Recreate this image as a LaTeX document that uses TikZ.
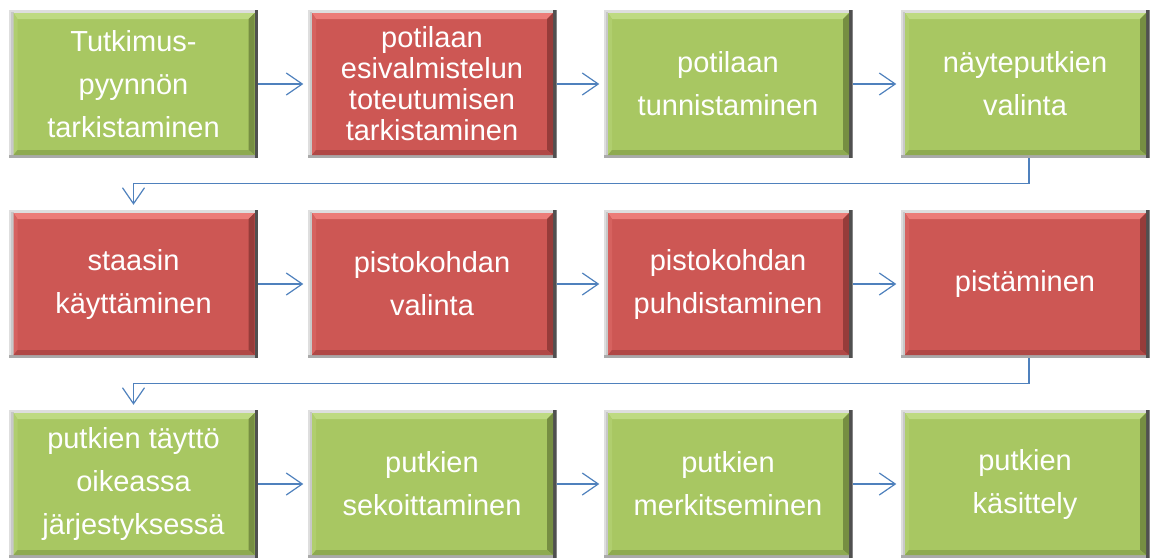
\documentclass[tikz,border=0pt]{standalone}
\usepackage{fontspec}
\setmainfont{Liberation Sans}
\usetikzlibrary{arrows.meta,calc}
\definecolor{gface}{RGB}{168,199,98}
\definecolor{gtop}{RGB}{190,218,130}
\definecolor{gleft}{RGB}{176,206,110}
\definecolor{gright}{RGB}{118,142,66}
\definecolor{gbot}{RGB}{142,170,80}
\definecolor{rface}{RGB}{205,87,84}
\definecolor{rtop}{RGB}{236,124,120}
\definecolor{rleft}{RGB}{214,98,95}
\definecolor{rright}{RGB}{150,60,58}
\definecolor{rbot}{RGB}{176,72,70}
\definecolor{frlight}{RGB}{222,222,222}
\definecolor{frleft}{RGB}{200,200,200}
\definecolor{frdark}{RGB}{80,80,80}
\definecolor{frbot}{RGB}{170,170,170}
\definecolor{arr}{RGB}{79,129,189}
\tikzset{
  bevelbox/.style n args={5}{
    rectangle, minimum width=249pt, minimum height=148pt, inner sep=0pt,
    text=white, align=center, font=\fontsize{29}{43}\selectfont,
    path picture={
      \coordinate (pnw) at (path picture bounding box.north west);
      \coordinate (pse) at (path picture bounding box.south east);
      \fill[frlight] (pnw) rectangle (pse);
      \fill[frleft] ($(pnw)+(2pt,-2pt)$) rectangle ($(pnw |- pse)+(4.5pt,0)$);
      \fill[frdark] ($(pse)+(-3.5pt,0)$) rectangle (pse |- pnw);
      \fill[frbot] (pnw |- pse) rectangle ($(pse)+(-3.5pt,3pt)$);
      \coordinate (qA) at ($(pnw)+(4.5pt,-3pt)$);
      \coordinate (qC) at ($(pse)+(-3.5pt,3pt)$);
      \coordinate (qB) at (qC |- qA);
      \coordinate (qD) at (qA |- qC);
      \fill[#1] (qA) rectangle (qC);
      \fill[#2] (qA) -- (qB) -- ($(qB)+(-6pt,-6pt)$) -- ($(qA)+(4pt,-6pt)$) -- cycle;
      \fill[#3] (qA) -- ($(qA)+(4pt,-6pt)$) -- ($(qD)+(4pt,5pt)$) -- (qD) -- cycle;
      \fill[#4] (qB) -- (qC) -- ($(qC)+(-6pt,5pt)$) -- ($(qB)+(-6pt,-6pt)$) -- cycle;
      \fill[#5] (qD) -- ($(qD)+(4pt,5pt)$) -- ($(qC)+(-6pt,5pt)$) -- (qC) -- cycle;
    }
  },
  gbox/.style={bevelbox={gface}{gtop}{gleft}{gright}{gbot}},
  rbox/.style={bevelbox={rface}{rtop}{rleft}{rright}{rbot}},
  conn/.style={draw=arr, line width=1.2pt, -{Straight Barb[length=16pt,width=22pt,line width=1.2pt]}, shorten >=4pt},
}
\begin{document}
\begin{tikzpicture}[x=1pt,y=1pt]
\useasboundingbox (0,0) rectangle (1151,-557);
% row 1
\node[gbox] (b1) at (133.5,-84) {Tutkimus-\\pyynnön\\tarkistaminen};
\node[rbox, font=\fontsize{29}{31}\selectfont] (b2) at (432,-84) {potilaan\\esivalmistelun\\toteutumisen\\tarkistaminen};
\node[gbox] (b3) at (728,-84) {potilaan\\tunnistaminen};
\node[gbox] (b4) at (1025,-84) {näyteputkien\\valinta};
% row 2
\node[rbox] (b5) at (133.5,-284) {staasin\\käyttäminen};
\node[rbox] (b6) at (432,-284) {pistokohdan\\valinta};
\node[rbox] (b7) at (728,-284) {pistokohdan\\puhdistaminen};
\node[rbox] (b8) at (1025,-284) {pistäminen};
% row 3
\node[gbox] (b9) at (133.5,-484) {putkien täyttö\\oikeassa\\järjestyksessä};
\node[gbox] (b10) at (432,-484) {putkien\\sekoittaminen};
\node[gbox] (b11) at (728,-484) {putkien\\merkitseminen};
\node[gbox] (b12) at (1025,-484) {putkien\\käsittely};
% connectors
\draw[conn] (b1.east) -- (b2.west);
\draw[conn] (b2.east) -- (b3.west);
\draw[conn] (b3.east) -- (b4.west);
\draw[conn] (b5.east) -- (b6.west);
\draw[conn] (b6.east) -- (b7.west);
\draw[conn] (b7.east) -- (b8.west);
\draw[conn] (b9.east) -- (b10.west);
\draw[conn] (b10.east) -- (b11.west);
\draw[conn] (b11.east) -- (b12.west);
\draw[conn, shorten >=5pt] ($(b4.south)+(4,0)$) |- ($(b5.north)+(0,26)$) -- (b5.north);
\draw[conn, shorten >=5pt] ($(b8.south)+(4,0)$) |- ($(b9.north)+(0,26)$) -- (b9.north);
\end{tikzpicture}
\end{document}
